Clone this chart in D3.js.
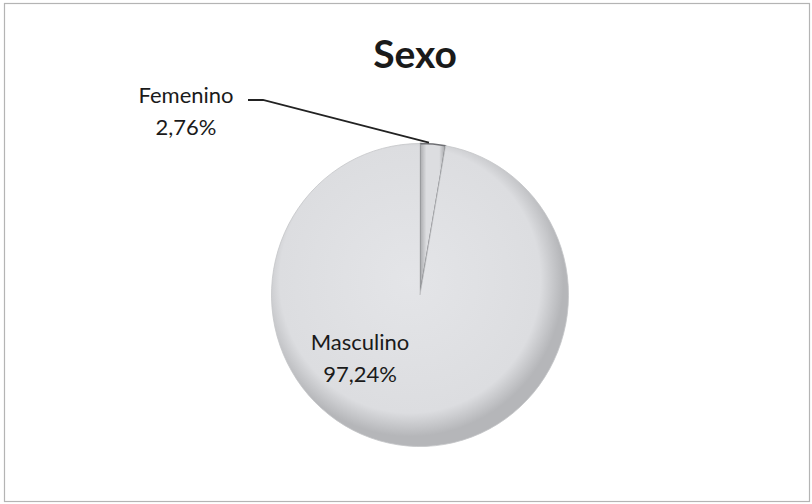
<!DOCTYPE html>
<html>
<head>
<meta charset="utf-8">
<script src="https://cdn.jsdelivr.net/npm/d3@7"></script>
<style>
  body { margin: 0; background: #fff; }
  text { font-family: Lato, "Liberation Sans", sans-serif; fill: #1a1a1a; }
</style>
</head>
<body>
<div id="vis"></div>
<script>
var width = 812, height = 504;

// data
var categories = ["Femenino", "Masculino"];
var values = [2.76, 97.24];
var title = "Sexo";

var cx = 420, cy = 295, radius = 150;

var svg = d3.select("#vis")
    .append("svg")
    .attr("width", width)
    .attr("height", height);

// chart border
svg.append("rect")
    .attr("x", 4.5).attr("y", 3.5)
    .attr("width", 805).attr("height", 498)
    .attr("fill", "#fff")
    .attr("stroke", "#b4b4b4")
    .attr("stroke-width", 1.2);

var defs = svg.append("defs");
var grad = defs.append("radialGradient")
    .attr("id", "pieGrad")
    .attr("gradientUnits", "userSpaceOnUse")
    .attr("cx", -10).attr("cy", -15).attr("r", radius + 5);
grad.append("stop").attr("offset", "0%").attr("stop-color", "#e4e5e8");
grad.append("stop").attr("offset", "85%").attr("stop-color", "#dcdde0");
grad.append("stop").attr("offset", "100%").attr("stop-color", "#b5b6b9");

var sliceGrad = defs.append("linearGradient")
    .attr("id", "sliceGrad")
    .attr("x1", "0%").attr("x2", "100%");
sliceGrad.append("stop").attr("offset", "0%").attr("stop-color", "#a9aaad");
sliceGrad.append("stop").attr("offset", "25%").attr("stop-color", "#dcdde0");
sliceGrad.append("stop").attr("offset", "75%").attr("stop-color", "#dcdde0");
sliceGrad.append("stop").attr("offset", "100%").attr("stop-color", "#a0a1a4");

var data = categories.map(function(c, i) { return {name: c, value: values[i]}; });

var pie = d3.pie()
    .sort(null)
    .value(function(d) { return d.value; });

var arc = d3.arc()
    .innerRadius(0)
    .outerRadius(radius);

var g = svg.append("g")
    .attr("transform", "translate(" + cx + "," + cy + ") scale(0.99,1.01)");

var arcs = pie(data);

g.selectAll("path.slice")
    .data(arcs)
    .enter()
    .append("path")
    .attr("class", "slice")
    .attr("d", arc)
    .attr("fill", function(d, i) { return i === 0 ? "url(#sliceGrad)" : "url(#pieGrad)"; })
    .attr("stroke", function(d, i) { return i === 0 ? "#6f7074" : "#c4c5c8"; })
    .attr("stroke-width", function(d, i) { return i === 0 ? 1.5 : 0.8; })
    .attr("stroke-linejoin", "round");

// title
svg.append("text")
    .attr("x", 415)
    .attr("y", 68)
    .attr("text-anchor", "middle")
    .style("font-size", "39px")
    .style("font-weight", "bold")
    .text(title);

function fmt(v) { return v.toFixed(2).replace(".", ",") + "%"; }

// Femenino label + leader
var fem = arcs[0];
var edge = d3.arc().innerRadius(radius).outerRadius(radius);
var tip = edge.centroid(fem);
svg.append("polyline")
    .attr("points", [[248, 100], [263, 100], [cx + tip[0] - 4, cy + tip[1] - 3]].map(function(p) { return p.join(","); }).join(" "))
    .attr("fill", "none")
    .attr("stroke", "#222")
    .attr("stroke-width", 1.8);

var femLabel = svg.append("text")
    .attr("text-anchor", "middle")
    .style("font-size", "22px");
femLabel.append("tspan").attr("x", 186).attr("y", 103).text(fem.data.name);
femLabel.append("tspan").attr("x", 186).attr("y", 135).text(fmt(fem.data.value));

// Masculino label inside slice
var mas = arcs[1];
var masLabel = svg.append("text")
    .attr("text-anchor", "middle")
    .style("font-size", "22px");
masLabel.append("tspan").attr("x", cx - 60).attr("y", cy + 55).text(mas.data.name);
masLabel.append("tspan").attr("x", cx - 60).attr("y", cy + 87).text(fmt(mas.data.value));
</script>
</body>
</html>
